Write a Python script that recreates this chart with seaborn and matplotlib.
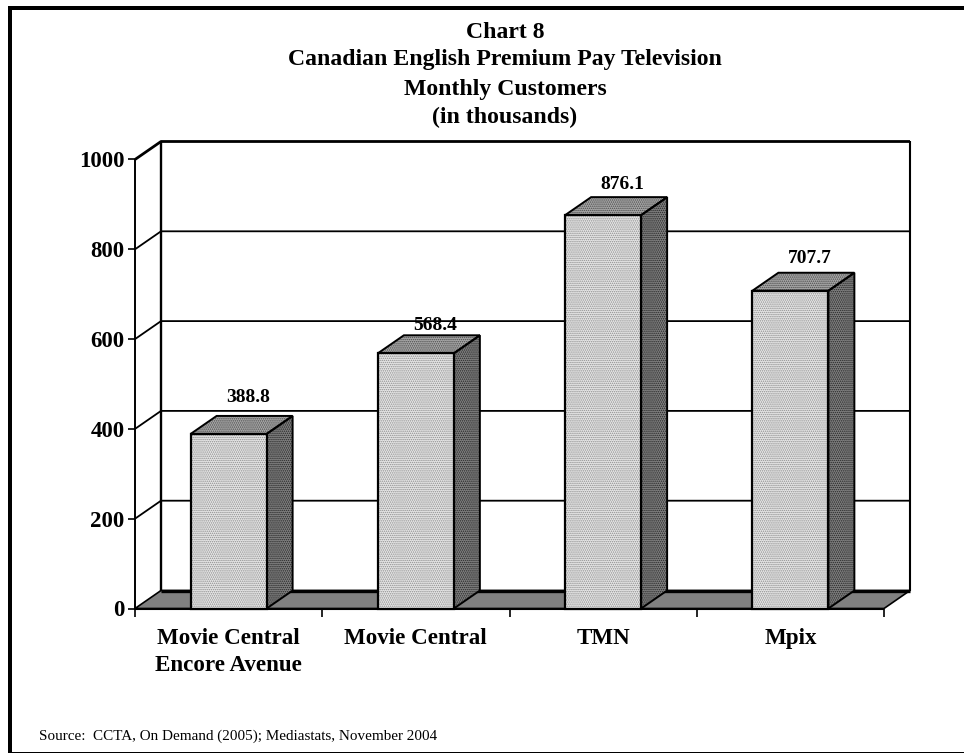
import matplotlib
matplotlib.use("Agg")
import matplotlib.pyplot as plt
import pandas as pd
import seaborn as sns
from matplotlib.patches import Polygon, Rectangle

categories = ["Movie Central\nEncore Avenue", "Movie Central", "TMN", "Mpix"]
customers = [388.8, 568.4, 876.1, 707.7]
y_ticks = [0, 200, 400, 600, 800, 1000]
title_lines = [
    "Chart 8",
    "Canadian English Premium Pay Television",
    "Monthly Customers",
    "(in thousands)",
]
title_y_px = [32, 59.5, 89, 117]
source = "Source:  CCTA, On Demand (2005); Mediastats, November 2004"
# the value labels do not sit at a constant height above the bars
label_gap_px = [18, 10, 13, 14]

W, H = 964, 753
# 3d depth of the box, in data units (26px right, 18px up)
DX = 26 / 187.25
DY = 18 / 449 * 1000
BAR_W = 76 / 187.25

sns.set_theme(style="white")
plt.rcParams["font.family"] = ["Liberation Serif", "DejaVu Serif"]
plt.rcParams["hatch.linewidth"] = 0.7

fig = plt.figure(figsize=(W / 100, H / 100), dpi=100)
ax = fig.add_axes([135 / W, 1 - 608.5 / H, 749 / W, 449 / H])
ax.patch.set_alpha(0)

df = pd.DataFrame({"channel": categories, "customers": customers})
sns.barplot(
    data=df,
    x="channel",
    y="customers",
    width=BAR_W,
    color="#e6e6e6",
    saturation=1,
    edgecolor="#9a9a9a",
    linewidth=0,
    ax=ax,
    zorder=4,
)
for bar in list(ax.patches):
    bar.set_hatch("........")
    bar.set_edgecolor("#8e8e8e")
    ax.add_patch(Rectangle(bar.get_xy(), bar.get_width(), bar.get_height(), fill=False,
                           edgecolor="black", linewidth=1.6, clip_on=False, zorder=4.5))
ax.set_xlim(-0.5, 3.5)
ax.set_ylim(0, 1000)
ax.set_xlabel("")
ax.set_ylabel("")

x0, x1 = -0.5, 3.5
line = dict(color="black", clip_on=False, solid_capstyle="butt")

# floor
ax.add_patch(Polygon([(x0, 0), (x1, 0), (x1 + DX, DY), (x0 + DX, DY)],
                     closed=True, facecolor="#808080", edgecolor="black",
                     linewidth=1.2, clip_on=False, zorder=2))
ax.plot([x0 + DX, x1 + DX], [DY, DY], lw=2.4, zorder=2.5, **line)
ax.plot([x0, x1], [0, 0], lw=1.5, zorder=2.5, **line)

# walls and grid
for v in y_ticks[1:]:
    ax.plot([x0, x0 + DX, x1 + DX], [v, v + DY, v + DY],
            lw=2 if v == 1000 else 1.3, zorder=1, **line)
ax.plot([x0, x0], [0, 1000], lw=1.4, zorder=3, **line)
ax.plot([x0 + DX, x0 + DX], [DY, 1000 + DY], lw=1.7, zorder=1, **line)
ax.plot([x1 + DX, x1 + DX], [DY, 1000 + DY], lw=1.5, zorder=1, **line)

# bar tops and sides
for i, v in enumerate(customers):
    l, r = i - BAR_W / 2, i + BAR_W / 2
    top = [(l, v), (r, v), (r + DX, v + DY), (l + DX, v + DY)]
    side = [(r, 0), (r + DX, DY), (r + DX, v + DY), (r, v)]
    ax.add_patch(Polygon(top, closed=True, facecolor="#a8a8a8", edgecolor="#4a4a4a",
                         hatch="........", linewidth=0, clip_on=False, zorder=3))
    ax.add_patch(Polygon(side, closed=True, facecolor="#808080", edgecolor="#262626",
                         hatch="........", linewidth=0, clip_on=False, zorder=3))
    for poly in (top, side):
        ax.add_patch(Polygon(poly, closed=True, fill=False, edgecolor="black",
                             linewidth=1.4, clip_on=False, zorder=3.5))
    ax.annotate(f"{v:.1f}", xy=(i + DX / 2, v + DY), xytext=(6.5 * 0.72, label_gap_px[i] * 0.72),
                textcoords="offset points", ha="center", va="center",
                fontsize=14, fontweight="bold", color="black", zorder=5,
                annotation_clip=False)

sns.despine(ax=ax, left=True, bottom=True)
ax.set_yticks(y_ticks)
ax.set_yticklabels([str(v) for v in y_ticks], fontsize=16.5, fontweight="bold", color="black")
ax.set_xticks([-0.5, 0.5, 1.5, 2.5, 3.5])
ax.set_xticklabels([])
ax.tick_params(axis="y", left=True, length=5, width=1.2, color="black", pad=2.5)
ax.tick_params(axis="x", bottom=True, length=5.5, width=1.2, color="black")
for i, name in enumerate(categories):
    ax.annotate(name, xy=(i, 0), xytext=(0, -14),
                textcoords="offset points", ha="center", va="top",
                fontsize=16.6, fontweight="bold", color="black", linespacing=1.39)

# title
for t, y_px in zip(title_lines, title_y_px):
    fig.text(505 / W, 1 - y_px / H, t, ha="center", va="center",
             fontsize=17.1, fontweight="bold", color="black")

fig.text(39 / W, 1 - 736 / H, source, ha="left", va="center", fontsize=10.9, color="black")

# page frame
fig.add_artist(Rectangle((8 / W, 0), 4 / W, 1 - 6 / H, transform=fig.transFigure,
                         facecolor="black", edgecolor="none"))
fig.add_artist(Rectangle((8 / W, 1 - 10 / H), 1 - 8 / W, 4 / H, transform=fig.transFigure,
                         facecolor="black", edgecolor="none"))
fig.add_artist(Rectangle((8 / W, 0), 1 - 8 / W, 1.5 / H, transform=fig.transFigure,
                         facecolor="black", edgecolor="none"))

fig.savefig("out.png", dpi=100, facecolor="white")
